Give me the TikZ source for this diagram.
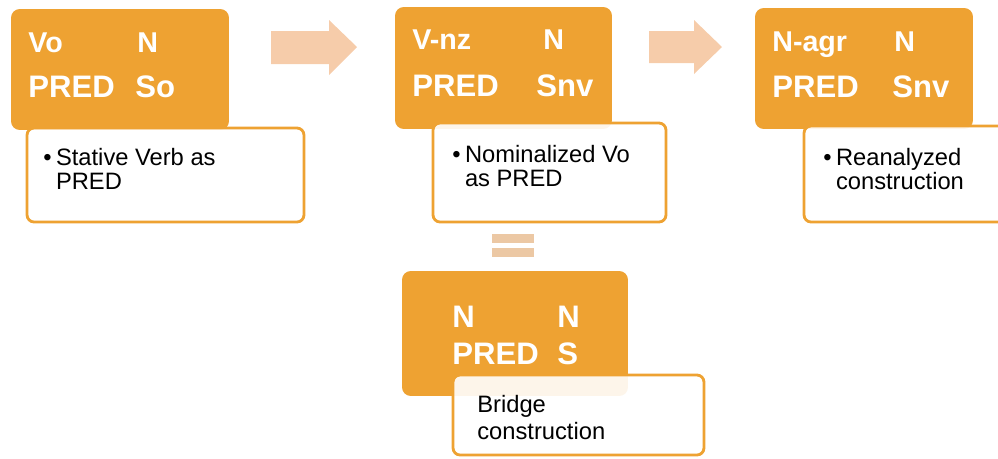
\documentclass[tikz,border=0pt]{standalone}
\usepackage{fontspec}
\setmainfont{Liberation Sans}
\usepackage{tikz}

\definecolor{boxorange}{RGB}{238,162,50}
\definecolor{arrowpeach}{RGB}{246,204,170}
\definecolor{eqpeach}{RGB}{236,200,164}

\begin{document}
\begin{tikzpicture}[x=0.02cm,y=-0.02cm,
	obox/.style={fill=boxorange,rounded corners=5pt,inner sep=0pt},
	wbox/.style={draw=boxorange,line width=1.6pt,fill=white,fill opacity=0.9,rounded corners=4pt,inner sep=0pt},
	topline/.style={anchor=base west,inner sep=0pt,text=white,font=\fontsize{16.3}{18}\selectfont\bfseries},
	botline/.style={anchor=base west,inner sep=0pt,text=white,font=\fontsize{17.7}{20}\selectfont\bfseries},
	note/.style={anchor=base west,inner sep=0pt,font=\fontsize{13.5}{14.2}\selectfont}]
	\useasboundingbox (0,0) rectangle (998,458);
	\clip (0,0) rectangle (998,458);

	% orange boxes
	\node[obox,minimum width=4.36cm,minimum height=2.42cm] (stative) at (120,69.5) {};
	\node[obox,minimum width=4.34cm,minimum height=2.44cm] (nominal) at (503.5,68) {};
	\node[obox,minimum width=4.36cm,minimum height=2.42cm] (reanal) at (864,68.5) {};
	\node[obox,minimum width=4.52cm,minimum height=2.5cm] (bridge) at (515,333.5) {};

	\node[topline] (vo) at (28,52) {Vo};
	\node[topline] (n1) at (137,52) {N};
	\node[botline] (pred1) at (28,97) {PRED};
	\node[botline] (so) at (135,97) {So};

	\node[topline] (vnz) at (412,49) {V-nz};
	\node[topline] (n2) at (543,49) {N};
	\node[botline] (pred2) at (412,96) {PRED};
	\node[botline] (snv2) at (536,96) {Snv};

	\node[topline] (nagr) at (772,51) {N-agr};
	\node[topline] (n3) at (894,51) {N};
	\node[botline] (pred3) at (772,97) {PRED};
	\node[botline] (snv3) at (892,97) {Snv};

	\node[botline] (n4) at (452,327) {N};
	\node[botline] (n5) at (557,327) {N};
	\node[botline] (pred4) at (452,364) {PRED};
	\node[botline] (s4) at (557,364) {S};

	% white boxes
	\node[wbox,minimum width=5.54cm,minimum height=1.88cm] (stativenote) at (165.5,175) {};
	\node[wbox,minimum width=4.66cm,minimum height=1.98cm] (nominalnote) at (549.5,172.5) {};
	\node[wbox,minimum width=4.66cm,minimum height=1.92cm] (reanalnote) at (920.5,174) {};
	\node[wbox,minimum width=5.02cm,minimum height=1.6cm] (bridgenote) at (578.5,415) {};

	\node[note] (t1) at (43,165) {\begin{tabular}[t]{@{}l@{\hspace{2.5pt}}l@{}}\textbullet & Stative Verb as\\ & PRED\end{tabular}};
	\node[note] (t2) at (452,162) {\begin{tabular}[t]{@{}l@{\hspace{2.5pt}}l@{}}\textbullet & Nominalized Vo\\ & as PRED\end{tabular}};
	\node[note] (t3) at (823,165) {\begin{tabular}[t]{@{}l@{\hspace{2.5pt}}l@{}}\textbullet & Reanalyzed\\ & construction\end{tabular}};
	\node[note,font=\fontsize{13.5}{15.9}\selectfont] (t4) at (477,412) {\begin{tabular}[t]{@{}l@{}}Bridge\\construction\end{tabular}};

	% block arrows
	\fill[arrowpeach] (271,31) -- (329,31) -- (329,20) -- (357,47) -- (329,75) -- (329,64) -- (271,64) -- cycle;
	\fill[arrowpeach] (649,31) -- (694,31) -- (694,20) -- (722,47) -- (694,74) -- (694,63) -- (649,63) -- cycle;

	% equals sign
	\fill[eqpeach] (492,234) rectangle (534,243);
	\fill[eqpeach] (492,248) rectangle (534,257);

\end{tikzpicture}
\end{document}
